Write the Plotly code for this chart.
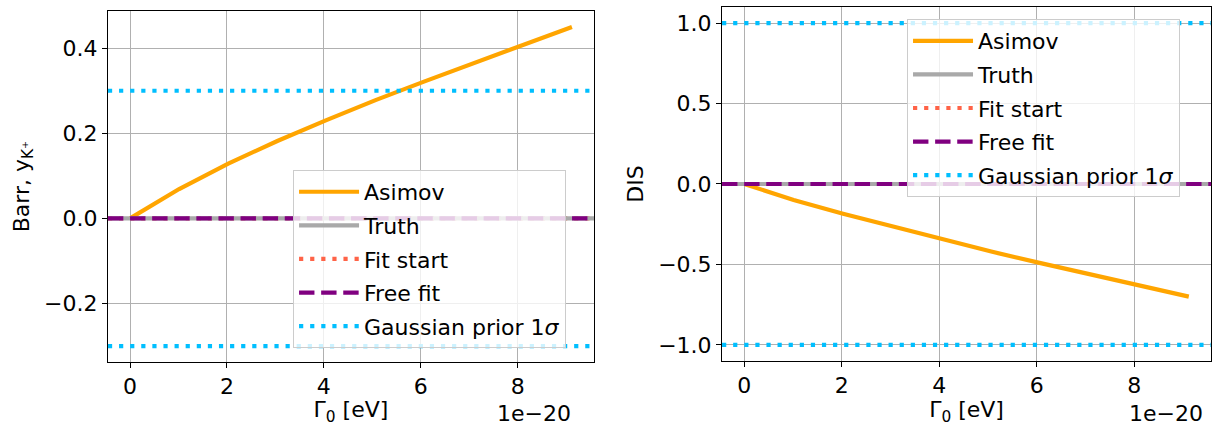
import plotly.graph_objects as go

# Decay width Γ0 (eV) and the Asimov-fit nuisance pulls
gamma0_ev = [0.0, 1.013e-20, 2.027e-20, 3.040e-20, 4.053e-20,
             5.067e-20, 6.080e-20, 7.093e-20, 8.107e-20, 9.120e-20]
asimov_barr = [0.0, 0.069, 0.129, 0.182, 0.231, 0.278, 0.322, 0.365, 0.407, 0.450]
asimov_dis = [0.0, -0.100, -0.185, -0.265, -0.343, -0.420, -0.492, -0.563, -0.632, -0.700]

# Reference levels for each nuisance parameter
truth = {"barr": 0.0, "dis": 0.0}
fit_start = {"barr": 0.0, "dis": 0.0}
free_fit = {"barr": 0.0, "dis": 0.0}
prior_sigma = {"barr": 0.3, "dis": 1.0}

x_scale = 1e-20
x_ticks = [0, 2, 4, 6, 8]

FONT = "DejaVu Sans"
FS = 22
LW = 4.2
DOT = "4.2px,6.9px"
DASH = "15.4px,6.7px"

C_ASIMOV = "#ffa500"
C_TRUTH = "#a9a9a9"
C_START = "#ff6347"
C_FREE = "#800080"
C_PRIOR = "#00bfff"

fig = go.Figure()

panels = [
    ("barr", asimov_barr, "x", "y", "legend"),
    ("dis", asimov_dis, "x2", "y2", "legend2"),
]

x_plot = [g / x_scale for g in gamma0_ev]

for key, asimov, xa, ya, leg in panels:
    fig.add_trace(go.Scatter(
        x=x_plot, y=asimov, mode="lines", name="Asimov",
        line=dict(color=C_ASIMOV, width=LW),
        xaxis=xa, yaxis=ya, legend=leg, legendgroup=f"{key}_a", legendrank=1,
    ))
    xref_dom = f"{xa} domain"
    hlines = [
        ("Fit start", fit_start[key], C_START, DOT, 3, True),
        ("Truth", truth[key], C_TRUTH, "solid", 2, True),
        ("Free fit", free_fit[key], C_FREE, DASH, 4, True),
        ("Gaussian prior 1<i>σ</i>", prior_sigma[key], C_PRIOR, DOT, 5, True),
        ("Gaussian prior 1<i>σ</i>", -prior_sigma[key], C_PRIOR, DOT, 5, False),
    ]
    for name, yv, col, dash, rank, show in hlines:
        fig.add_shape(
            type="line", xref=xref_dom, yref=ya, x0=0, x1=1, y0=yv, y1=yv,
            line=dict(color=col, width=LW, dash=dash),
            name=name, showlegend=show, legend=leg,
            legendgroup=f"{key}_{rank}", legendrank=rank, layer="above",
        )

axis_common = dict(
    showline=True, linecolor="black", linewidth=1.1, mirror=True,
    ticks="outside", ticklen=5, tickwidth=1.1, tickcolor="black",
    showgrid=True, gridcolor="#b0b0b0", gridwidth=1.1, zeroline=False,
    tickfont=dict(family=FONT, size=FS, color="black"),
)

x_range = [-0.456, 9.576]

legend_common = dict(
    xanchor="left", yanchor="top",
    bgcolor="rgba(255,255,255,0.8)", bordercolor="#cccccc",
    borderwidth=1, tracegroupgap=2, traceorder="grouped",
    itemwidth=60, font=dict(family=FONT, size=FS),
)

fig.update_layout(
    width=1217, height=426,
    margin=dict(l=0, r=0, t=0, b=0),
    paper_bgcolor="white", plot_bgcolor="white",
    font=dict(family=FONT, size=FS, color="black"),
    xaxis=dict(axis_common, domain=[0.0887, 0.4881], range=x_range, anchor="y",
               tickvals=x_ticks, ticktext=[str(t) for t in x_ticks],
               title=dict(text="Γ<sub>0</sub> [eV]", standoff=4,
                          font=dict(family=FONT, size=FS))),
    yaxis=dict(axis_common, domain=[0.1502, 0.9742], range=[-0.3375, 0.4875],
               anchor="x", dtick=0.2, tickformat=".1f",
               title=dict(text="Barr, y<sub>K⁺</sub>", standoff=8,
                          font=dict(family=FONT, size=FS))),
    xaxis2=dict(axis_common, domain=[0.5933, 0.9951], range=x_range, anchor="y2",
                tickvals=x_ticks, ticktext=[str(t) for t in x_ticks],
                title=dict(text="Γ<sub>0</sub> [eV]", standoff=4,
                           font=dict(family=FONT, size=FS))),
    yaxis2=dict(axis_common, domain=[0.1526, 0.9836], range=[-1.1, 1.1],
                anchor="x2", dtick=0.5, tickformat=".1f",
                title=dict(text="DIS", standoff=8,
                           font=dict(family=FONT, size=FS))),
    legend=dict(legend_common, x=0.2408, y=0.601),
    legend2=dict(legend_common, x=0.7453, y=0.9554),
    showlegend=True,
)

# Offset labels for the scaled x axes
for xa, right_px in (("x", 573), ("x2", 1205)):
    fig.add_annotation(
        text="1e−20", xref="paper", yref="paper",
        x=right_px / 1217, y=1 - 413 / 426,
        xanchor="right", yanchor="middle", showarrow=False,
        font=dict(family=FONT, size=FS, color="black"),
    )

fig.write_html("out.html")
